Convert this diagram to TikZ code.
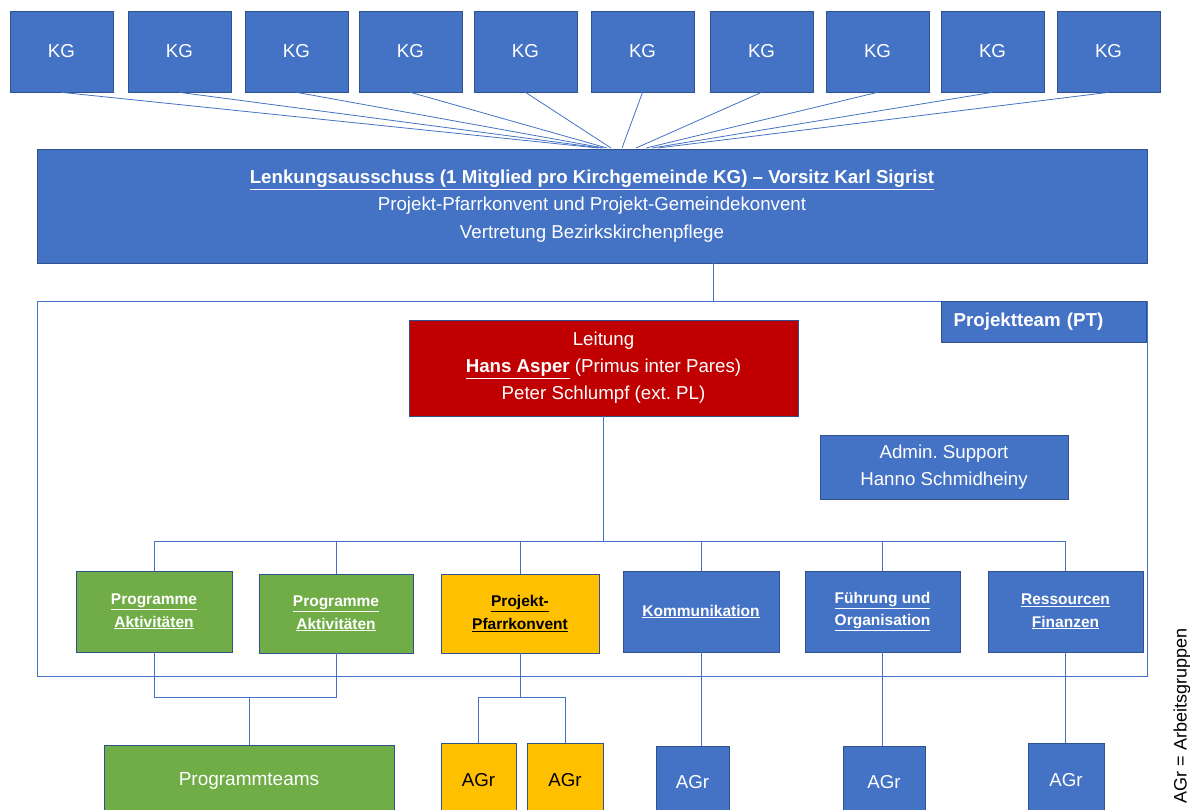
\documentclass[tikz,border=0pt]{standalone}
\usepackage{fontspec}
\setmainfont{Liberation Sans}
\usepackage{tikz}
\usetikzlibrary{positioning}
\definecolor{orgblue}{HTML}{4472C4}
\definecolor{orgedge}{HTML}{2F528F}
\definecolor{orggreen}{HTML}{70AD47}
\definecolor{orgyellow}{HTML}{FFC000}
\definecolor{orgred}{HTML}{C00000}

\begin{document}
\begin{tikzpicture}[x=1pt,y=-1pt,
    unit/.style={draw=orgedge,line width=.7pt,fill=orgblue,text=white,inner sep=0pt,align=center,
      font=\fontsize{18.7}{27}\selectfont},
    kgbox/.style={unit,minimum width=103pt,minimum height=81pt},
    teambox/.style={unit,font=\fontsize{15.5}{22.5}\selectfont\bfseries},
    link/.style={draw=orgblue,line width=.8pt}]
    \clip (0,0) rectangle (1190,809);
    % frame of the project team
    \node[draw=orgblue,line width=.9pt,minimum width=1110pt,minimum height=375pt] (ptframe) at (592,488.5) {};
    \node[unit,anchor=north east,minimum width=205pt,minimum height=41pt,text width=181pt,align=left,
      font=\fontsize{18.7}{20}\selectfont\bfseries] (ptlabel) at (1147,301) {Projektteam (PT)};
    % KG row
    \node[kgbox] (kg1) at (61.5,51.5) {KG};
    \node[kgbox] (kg2) at (179.5,51.5) {KG};
    \node[kgbox] (kg3) at (296.5,51.5) {KG};
    \node[kgbox] (kg4) at (410.5,51.5) {KG};
    \node[kgbox] (kg5) at (525.5,51.5) {KG};
    \node[kgbox] (kg6) at (642.5,51.5) {KG};
    \node[kgbox] (kg7) at (761.5,51.5) {KG};
    \node[kgbox] (kg8) at (877.5,51.5) {KG};
    \node[kgbox] (kg9) at (992.5,51.5) {KG};
    \node[kgbox] (kg10) at (1108.5,51.5) {KG};
    \coordinate (t1) at (598,148);
    \coordinate (t2) at (601,148);
    \coordinate (t3) at (604,148);
    \coordinate (t4) at (607,148);
    \coordinate (t5) at (611,148);
    \coordinate (t6) at (622,148);
    \coordinate (t7) at (636,148);
    \coordinate (t8) at (646,148);
    \coordinate (t9) at (652,148);
    \coordinate (t10) at (658,148);
    \draw[link] (kg1.south) -- (t1);
    \draw[link] (kg2.south) -- (t2);
    \draw[link] (kg3.south) -- (t3);
    \draw[link] (kg4.south) -- (t4);
    \draw[link] (kg5.south) -- (t5);
    \draw[link] (kg6.south) -- (t6);
    \draw[link] (kg7.south) -- (t7);
    \draw[link] (kg8.south) -- (t8);
    \draw[link] (kg9.south) -- (t9);
    \draw[link] (kg10.south) -- (t10);
    % steering committee
    \node[unit,minimum width=1110pt,minimum height=114pt,font=\fontsize{18.7}{27.5}\selectfont] (lenk) at (592,206)
      {\textbf{\underline{Lenkungsausschuss (1 Mitglied pro Kirchgemeinde KG) -- Vorsitz Karl Sigrist}}\\
       Projekt-Pfarrkonvent und Projekt-Gemeindekonvent\\ Vertretung Bezirkskirchenpflege};
    \coordinate (lenkout) at (713,263);
    \coordinate (ptin) at (713,301);
    \draw[link] (lenkout) -- (ptin);
    % lead and support
    \node[unit,fill=orgred,minimum width=389pt,minimum height=96pt] (lead) at (603.5,368)
      {Leitung\\ \textbf{\underline{Hans Asper}} (Primus inter Pares)\\ Peter Schlumpf (ext.\ PL)};
    \node[unit,minimum width=248pt,minimum height=64pt] (admin) at (944,467) {Admin.\ Support\\ Hanno Schmidheiny};
    % sub-projects
    \node[teambox,fill=orggreen,minimum width=156pt,minimum height=81pt] (prog1) at (154,611.5)
      {\underline{Programme}\\ \underline{Aktivitäten}};
    \node[teambox,fill=orggreen,minimum width=154pt,minimum height=79pt] (prog2) at (336,613.5)
      {\underline{Programme}\\ \underline{Aktivitäten}};
    \node[teambox,fill=orgyellow,text=black,minimum width=158pt,minimum height=79pt] (pfk) at (520,613.5)
      {\underline{Projekt-}\\ \underline{Pfarrkonvent}};
    \node[teambox,minimum width=156pt,minimum height=81pt] (komm) at (701,611.5) {\underline{Kommunikation}};
    \node[teambox,minimum width=155pt,minimum height=81pt] (fuehr) at (882.5,611.5)
      {\underline{Führung und}\\ \underline{Organisation}};
    \node[teambox,minimum width=155pt,minimum height=81pt] (ress) at (1065.5,611.5)
      {\underline{Ressourcen}\\ \underline{Finanzen}};
    \coordinate (bus) at (603.5,541);
    \draw[link] (lead.south) -- (bus);
    \draw[link] (prog1.north) |- (bus);
    \draw[link] (prog2.north) |- (bus);
    \draw[link] (pfk.north) |- (bus);
    \draw[link] (komm.north) |- (bus);
    \draw[link] (fuehr.north) |- (bus);
    \draw[link] (ress.north) |- (bus);
    % working groups
    \node[unit,fill=orggreen,minimum width=290pt,minimum height=72pt,font=\fontsize{19}{22}\selectfont] (pteams) at (249,781) {Programmteams};
    \node[unit,fill=orgyellow,text=black,minimum width=75pt,minimum height=74pt] (agr1) at (478.5,780) {AGr};
    \node[unit,fill=orgyellow,text=black,minimum width=76pt,minimum height=74pt] (agr2) at (565,780) {AGr};
    \node[unit,minimum width=73pt,minimum height=72pt] (agr3) at (692.5,782) {AGr};
    \node[unit,minimum width=82pt,minimum height=72pt] (agr4) at (884,782) {AGr};
    \node[unit,minimum width=76pt,minimum height=74pt] (agr5) at (1066,780) {AGr};
    \coordinate (pjoin) at (249,697);
    \draw[link] (prog1.south) |- (pjoin);
    \draw[link] (prog2.south) |- (pjoin);
    \draw[link] (pjoin) -- (pteams.north);
    \coordinate (ajoin) at (520,697);
    \draw[link] (pfk.south) -- (ajoin);
    \draw[link] (agr1.north) |- (ajoin);
    \draw[link] (agr2.north) |- (ajoin);
    \draw[link] (komm.south) -- (komm.south |- agr3.north);
    \draw[link] (fuehr.south) -- (fuehr.south |- agr4.north);
    \draw[link] (ress.south) -- (ress.south |- agr5.north);
    % legend
    \node[rotate=90,font=\fontsize{18}{20}\selectfont] (legend) at (1182,716) {AGr = Arbeitsgruppen};
\end{tikzpicture}
\end{document}
